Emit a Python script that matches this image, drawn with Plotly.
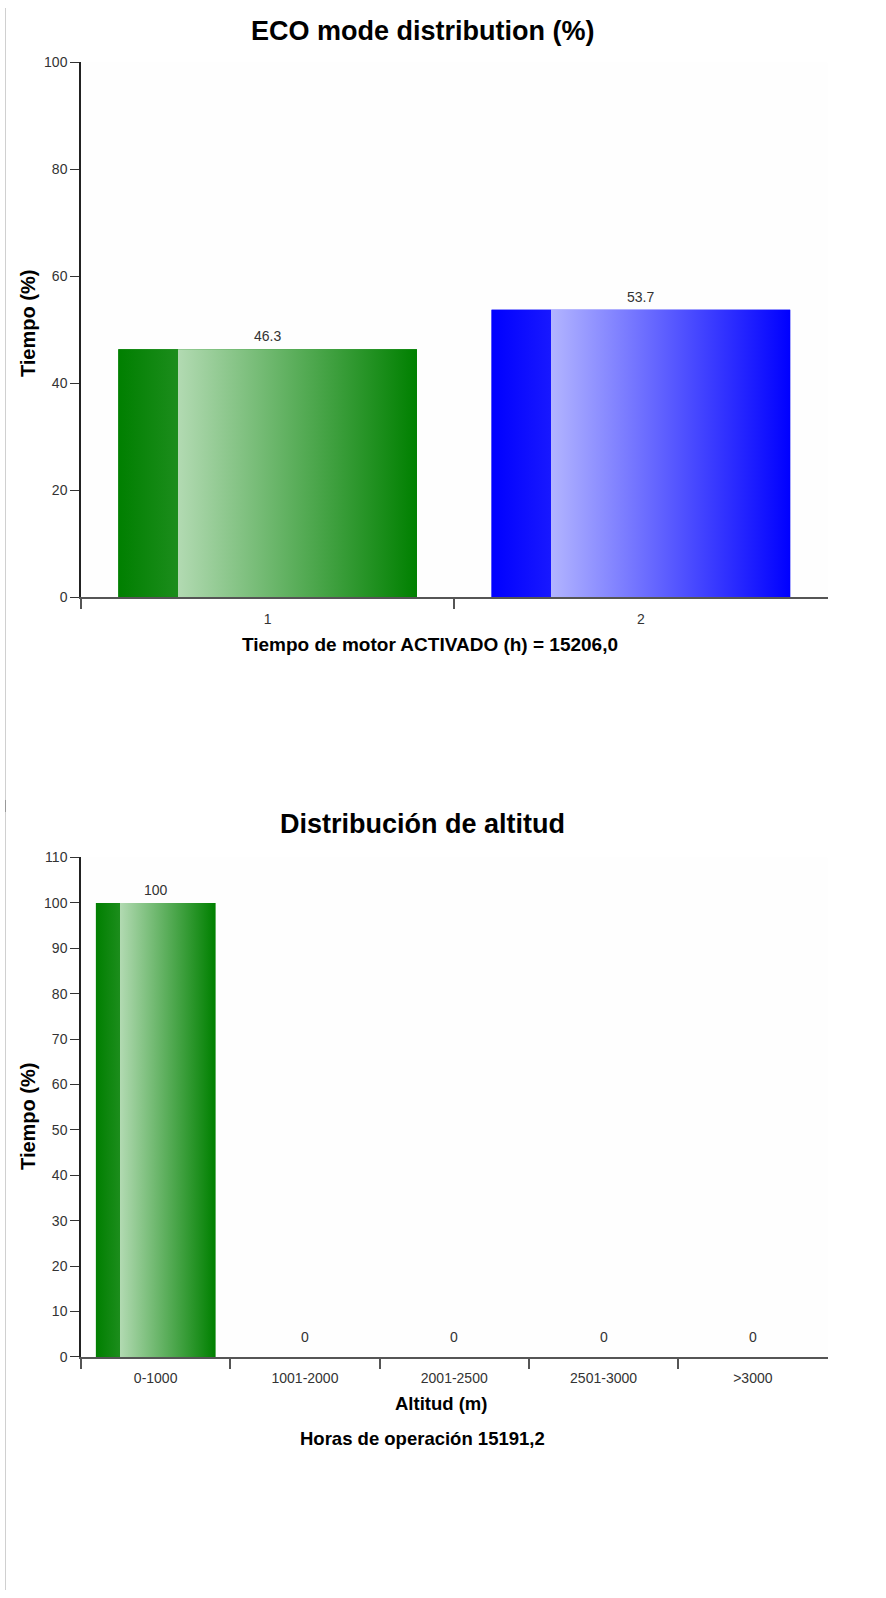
import plotly.graph_objects as go

# ---- data ----
eco_categories = ["1", "2"]
eco_values = [46.3, 53.7]
eco_title = "ECO mode distribution (%)"
eco_xtitle = "Tiempo de motor ACTIVADO (h) = 15206,0"

alt_categories = ["0-1000", "1001-2000", "2001-2500", "2501-3000", ">3000"]
alt_values = [100, 0, 0, 0, 0]
alt_title = "Distribución de altitud"
alt_xtitle = "Altitud (m)"
alt_note = "Horas de operación 15191,2"

y_title = "Tiempo (%)"

# ---- styling ----
W, H = 886, 1598
PAGE_OFFSET = 8            # page offset above the figure div
PAGE_SCALE = 1598 / 1614   # vertical page scale
FONT = "Liberation Sans, Arial, Helvetica, sans-serif"
BAR_WIDTH = 0.8
TICK_SIZE = 14
AXIS_TITLE_SIZE = 18.5
Y_TITLE_SIZE = 20
TITLE_SIZE = 27

GREEN = dict(base="#008000",
             scale=[[0, "#007f00"], [0.2, "#1c8d1c"], [0.2, "#b2dab2"], [1, "#008000"]])
BLUE = dict(base="#0000ff",
            scale=[[0, "#0000ff"], [0.2, "#1818ff"], [0.2, "#b2b4ff"], [1, "#0000ff"]])


def px_x(x):
    return x / W


def px_y(y):
    return 1 - (y / PAGE_SCALE - PAGE_OFFSET) / H


fig = go.Figure()


def add_bar_chart(categories, values, palettes, xa, ya):
    idx = list(range(len(categories)))
    fig.add_trace(go.Bar(
        x=idx, y=values, width=BAR_WIDTH,
        marker=dict(color=[p["base"] for p in palettes], line=dict(width=0)),
        xaxis=xa, yaxis=ya, showlegend=False, hoverinfo="x+y",
    ))
    # shaded face of every bar, built from the same values
    for i, v, p in zip(idx, values, palettes):
        x0, x1 = i - BAR_WIDTH / 2, i + BAR_WIDTH / 2
        fig.add_trace(go.Scatter(
            x=[x0, x1, x1, x0, x0], y=[0, 0, v, v, 0],
            mode="lines", line=dict(width=0), fill="toself",
            fillgradient=dict(type="horizontal", colorscale=p["scale"], start=x0, stop=x1),
            xaxis=xa, yaxis=ya, showlegend=False, hoverinfo="skip",
        ))
        fig.add_annotation(
            x=i, y=v, xref=xa, yref=ya, text=f"{v:g}", showarrow=False,
            yanchor="middle", yshift=13 if v > 0 else 20,
            font=dict(family=FONT, size=TICK_SIZE, color="#333"),
        )


add_bar_chart(eco_categories, eco_values, [GREEN, BLUE], "x", "y")
add_bar_chart(alt_categories, alt_values, [GREEN] * len(alt_values), "x2", "y2")

x_dom = [px_x(81), px_x(827.5)]


def xaxis_cfg(categories, anchor):
    n = len(categories)
    return dict(
        domain=x_dom, anchor=anchor, range=[-0.5, n - 0.5],
        tickmode="array", tickvals=list(range(n)), ticktext=categories,
        ticks="outside", ticklen=8, tickcolor="rgba(0,0,0,0)",
        minor=dict(tickmode="array", tickvals=[i - 0.5 for i in range(n)],
                   ticks="outside", ticklen=10, tickwidth=1.5, tickcolor="#555"),
        showline=True, linecolor="#555", linewidth=1.5,
        showgrid=False, zeroline=False, fixedrange=True,
        tickfont=dict(family=FONT, size=TICK_SIZE, color="#333"),
    )


def yaxis_cfg(top, dtick, y_px, anchor):
    return dict(
        domain=[px_y(y_px[1]), px_y(y_px[0])], anchor=anchor, range=[0, top],
        dtick=dtick, tick0=0, ticks="outside", ticklen=9, tickwidth=1.3, tickcolor="#333",
        showline=True, linecolor="#222", linewidth=1.5,
        showgrid=False, zeroline=False, fixedrange=True,
        tickfont=dict(family=FONT, size=TICK_SIZE, color="#333"),
    )


fig.update_layout(
    width=W, height=H, margin=dict(l=0, r=0, t=0, b=0),
    paper_bgcolor="white", plot_bgcolor="#fefefe",
    bargap=0.2, showlegend=False,
    xaxis=xaxis_cfg(eco_categories, "y"),
    yaxis=yaxis_cfg(100, 20, (62, 597), "x"),
    xaxis2=xaxis_cfg(alt_categories, "y2"),
    yaxis2=yaxis_cfg(110, 10, (857.5, 1357), "x2"),
)

# chart titles, axis titles and footnote
texts = [
    (eco_title, 422.5, 30.6, TITLE_SIZE, 0),
    (eco_xtitle, 430, 644, 19, 0),
    (y_title, 28, 324, Y_TITLE_SIZE, -90),
    (alt_title, 422.5, 824, TITLE_SIZE, 0),
    (alt_xtitle, 441, 1404, AXIS_TITLE_SIZE, 0),
    (alt_note, 422, 1438.6, AXIS_TITLE_SIZE, 0),
    (y_title, 28, 1117, Y_TITLE_SIZE, -90),
]
for txt, x, y, size, ang in texts:
    fig.add_annotation(
        x=px_x(x), y=px_y(y), xref="paper", yref="paper", text=f"<b>{txt}</b>",
        showarrow=False, xanchor="center", yanchor="middle", textangle=ang,
        font=dict(family=FONT, size=size, color="#000"),
    )

# page frame line on the left
fig.add_shape(type="line", xref="paper", yref="paper",
              x0=px_x(5.5), x1=px_x(5.5), y0=0, y1=1,
              line=dict(color="#d0d0d0", width=1))
fig.add_shape(type="line", xref="paper", yref="paper",
              x0=px_x(5.5), x1=px_x(5.5), y0=px_y(800), y1=px_y(812),
              line=dict(color="#999", width=1))

fig.write_html("out.html", config=dict(displayModeBar=False))
